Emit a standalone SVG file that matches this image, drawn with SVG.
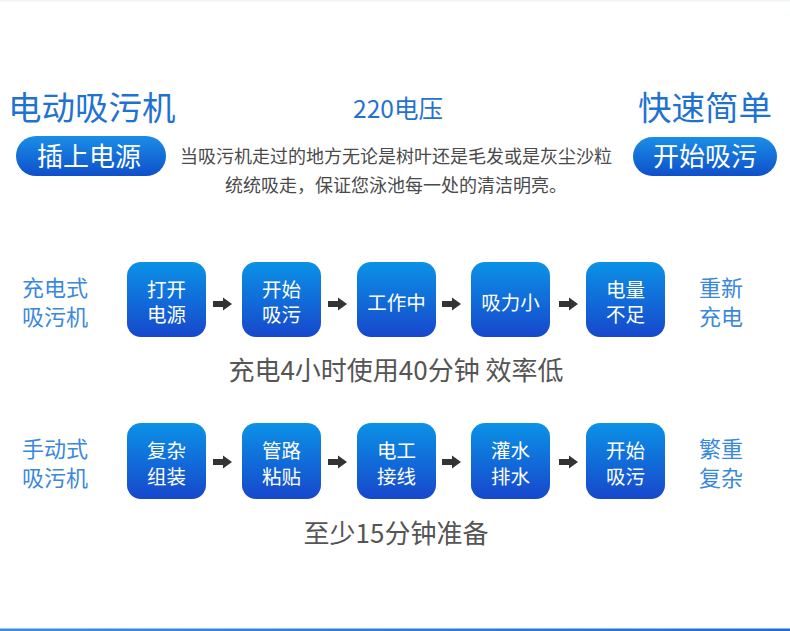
<svg xmlns="http://www.w3.org/2000/svg" width="790" height="631" viewBox="0 0 790 631">
<defs>
<linearGradient id="boxg" x1="0" y1="0" x2="0" y2="1">
<stop offset="0" stop-color="#0b92e6"/>
<stop offset="1" stop-color="#1747cc"/>
</linearGradient>
<linearGradient id="pillg" x1="0" y1="0" x2="0" y2="1">
<stop offset="0" stop-color="#1a8ee6"/>
<stop offset="1" stop-color="#0f4fcb"/>
</linearGradient>
<linearGradient id="barg" x1="0" y1="0" x2="1" y2="0">
<stop offset="0" stop-color="#3a8fd8"/>
<stop offset="1" stop-color="#1f6fc8"/>
</linearGradient>
<path id="arr" d="M0,-3 H10 V-6.5 L19,0 L10,6.5 V3 H0 Z"/>
</defs>
<style>
text{font-family:"Noto Sans CJK SC","Noto Sans",sans-serif}
.box{fill:url(#boxg)}
.bt{fill:#ffffff;font-size:19.5px;text-anchor:middle}
.pill{fill:url(#pillg)}
.pt{fill:#ffffff;font-size:26px;text-anchor:middle}
.lbl{fill:#3a88dc;font-size:22px}
.cap{fill:#555555;font-size:26px;text-anchor:middle}
.desc{fill:#4a4a4a;font-size:18px;text-anchor:middle}
.ttl{fill:#1f72d2}
.arrow{fill:#333333}
</style>
<rect x="0" y="0" width="790" height="631" fill="#ffffff"/>
<rect x="0" y="0" width="790" height="1.5" fill="#eef3f8"/>
<rect x="0" y="628.5" width="790" height="2.5" fill="url(#barg)"/>

<g id="title-left"><text class="ttl" x="8" y="120" font-size="33.5">电动吸污机</text></g>
<g id="title-mid"><text class="ttl" x="398" y="118" font-size="24.5" text-anchor="middle">220电压</text></g>
<g id="title-right"><text class="ttl" x="638" y="120" font-size="33.5">快速简单</text></g>

<g id="pill-left"><rect class="pill" x="16" y="136" width="150" height="40" rx="20"/><text class="pt" x="89" y="166">插上电源</text></g>
<g id="pill-right"><rect class="pill" x="633" y="137" width="144" height="39" rx="19.5"/><text class="pt" x="705" y="166">开始吸污</text></g>

<g id="desc">
<text class="desc" x="396" y="163">当吸污机走过的地方无论是树叶还是毛发或是灰尘沙粒</text>
<text class="desc" x="396" y="192">统统吸走，保证您泳池每一处的清洁明亮。</text>
</g>

<g id="label-r1-left"><text class="lbl" x="22" y="296">充电式</text><text class="lbl" x="22" y="325">吸污机</text></g>
<g id="label-r1-right"><text class="lbl" x="699" y="296">重新</text><text class="lbl" x="699" y="325">充电</text></g>
<g id="label-r2-left"><text class="lbl" x="22" y="457">手动式</text><text class="lbl" x="22" y="486">吸污机</text></g>
<g id="label-r2-right"><text class="lbl" x="699" y="457">繁重</text><text class="lbl" x="699" y="486">复杂</text></g>

<g id="r1b1"><rect class="box" x="127" y="262" width="79" height="75" rx="14"/><text class="bt" x="166.5" y="297">打开</text><text class="bt" x="166.5" y="322">电源</text></g>
<g id="r1b2"><rect class="box" x="242" y="262" width="79" height="75" rx="14"/><text class="bt" x="281.5" y="297">开始</text><text class="bt" x="281.5" y="322">吸污</text></g>
<g id="r1b3"><rect class="box" x="357" y="262" width="79" height="75" rx="14"/><text class="bt" x="396.5" y="310">工作中</text></g>
<g id="r1b4"><rect class="box" x="471" y="262" width="79" height="75" rx="14"/><text class="bt" x="510.5" y="310">吸力小</text></g>
<g id="r1b5"><rect class="box" x="586" y="262" width="79" height="75" rx="14"/><text class="bt" x="625.5" y="297">电量</text><text class="bt" x="625.5" y="322">不足</text></g>

<g id="r2b1"><rect class="box" x="127" y="423" width="79" height="76" rx="14"/><text class="bt" x="166.5" y="458">复杂</text><text class="bt" x="166.5" y="484">组装</text></g>
<g id="r2b2"><rect class="box" x="242" y="423" width="79" height="76" rx="14"/><text class="bt" x="281.5" y="458">管路</text><text class="bt" x="281.5" y="484">粘贴</text></g>
<g id="r2b3"><rect class="box" x="357" y="423" width="79" height="76" rx="14"/><text class="bt" x="396.5" y="458">电工</text><text class="bt" x="396.5" y="484">接线</text></g>
<g id="r2b4"><rect class="box" x="471" y="423" width="79" height="76" rx="14"/><text class="bt" x="510.5" y="458">灌水</text><text class="bt" x="510.5" y="484">排水</text></g>
<g id="r2b5"><rect class="box" x="586" y="423" width="79" height="76" rx="14"/><text class="bt" x="625.5" y="458">开始</text><text class="bt" x="625.5" y="484">吸污</text></g>

<g id="connectors" class="arrow">
<use href="#arr" x="213" y="304"/>
<use href="#arr" x="328" y="304"/>
<use href="#arr" x="442" y="304"/>
<use href="#arr" x="559" y="304"/>
<use href="#arr" x="213" y="462"/>
<use href="#arr" x="328" y="462"/>
<use href="#arr" x="442" y="462"/>
<use href="#arr" x="559" y="462"/>
</g>

<g id="caption1"><text class="cap" x="396" y="380">充电4小时使用40分钟 效率低</text></g>
<g id="caption2"><text class="cap" x="396" y="543">至少15分钟准备</text></g>
</svg>
